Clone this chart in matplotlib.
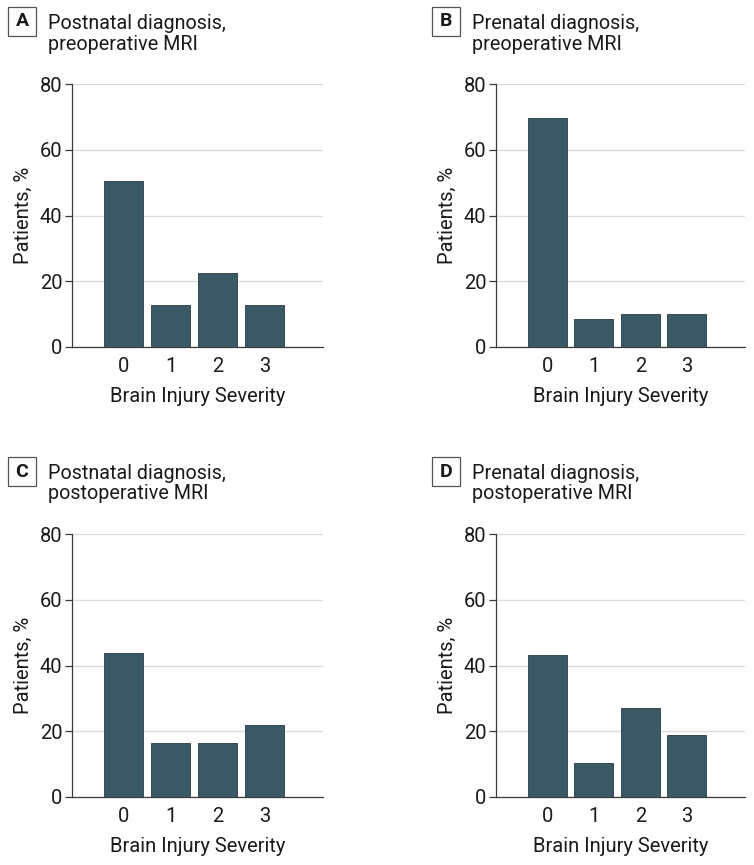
import matplotlib
matplotlib.use("Agg")
import matplotlib.pyplot as plt
from matplotlib.patches import Rectangle

plt.rcParams['font.family'] = ['Liberation Sans Narrow', 'Roboto', 'DejaVu Sans']

severity = [0, 1, 2, 3]
tick_labels = ["0", "1", "2", "3"]
panel_letters = ["A", "B", "C", "D"]
panel_titles = ["Postnatal diagnosis,\npreoperative MRI",
                "Prenatal diagnosis,\npreoperative MRI",
                "Postnatal diagnosis,\npostoperative MRI",
                "Prenatal diagnosis,\npostoperative MRI"]
postnatal_preop = [50.5, 12.9, 22.5, 12.9]
prenatal_preop = [69.7, 8.6, 10.1, 10.1]
postnatal_postop = [43.8, 16.5, 16.5, 21.8]
prenatal_postop = [43.2, 10.4, 27.0, 18.8]
values = [postnatal_preop, prenatal_preop, postnatal_postop, prenatal_postop]
yticks = [0, 20, 40, 60, 80]

W, H = 754, 865
fig = plt.figure(figsize=(W / 100, H / 100), dpi=100)

# axes rects in pixels: left, top, right, bottom
rects = [(72, 84, 323, 347), (496, 84, 745, 347),
         (72, 534, 323, 797), (496, 534, 745, 797)]

bar_color = "#3A5865"
grid_color = "#dcdcdc"
spine_color = "#3a3a3a"
fs = 14.5

for i, (l, t, r, b) in enumerate(rects):
    ax = fig.add_axes([l / W, 1 - b / H, (r - l) / W, (b - t) / H])
    ax.bar(severity, values[i], width=0.84, color=bar_color,
           edgecolor="#2a3a42", linewidth=0.6, zorder=3)
    ax.set_xlim(-1.1, 4.25)
    ax.set_ylim(0, 80)
    ax.set_yticks(yticks)
    ax.set_xticks(severity)
    ax.set_xticklabels(tick_labels)
    ax.yaxis.grid(True, color=grid_color, linewidth=1.0, zorder=0)
    ax.set_axisbelow(True)
    for s in ["top", "right"]:
        ax.spines[s].set_visible(False)
    for s in ["left", "bottom"]:
        ax.spines[s].set_color(spine_color)
        ax.spines[s].set_linewidth(0.9)
    ax.tick_params(axis="y", length=5, width=0.9, color=spine_color,
                   labelsize=fs, pad=2, labelcolor="#1a1a1a")
    ax.tick_params(axis="x", length=0, labelsize=fs, pad=7, labelcolor="#1a1a1a")
    ax.set_ylabel("Patients, %", fontsize=fs, labelpad=5, color="#1a1a1a")
    ax.set_xlabel("Brain Injury Severity", fontsize=fs, labelpad=8, color="#1a1a1a")

    # panel letter box and title
    bx = l - 64
    by = t - 77
    fig.patches.append(Rectangle((bx / W, 1 - (by + 29) / H), 28 / W, 29 / H,
                                 transform=fig.transFigure, fill=False,
                                 edgecolor="#555555", linewidth=0.9))
    fig.text((bx + 14) / W, 1 - (by + 14.5) / H, panel_letters[i],
             ha="center", va="center", fontsize=14, fontweight="bold",
             color="#1a1a1a")
    fig.text((bx + 40) / W, 1 - (by + 7) / H, panel_titles[i],
             ha="left", va="top", fontsize=14.2, linespacing=1.1,
             color="#1a1a1a")

fig.savefig("out.png", dpi=100)
